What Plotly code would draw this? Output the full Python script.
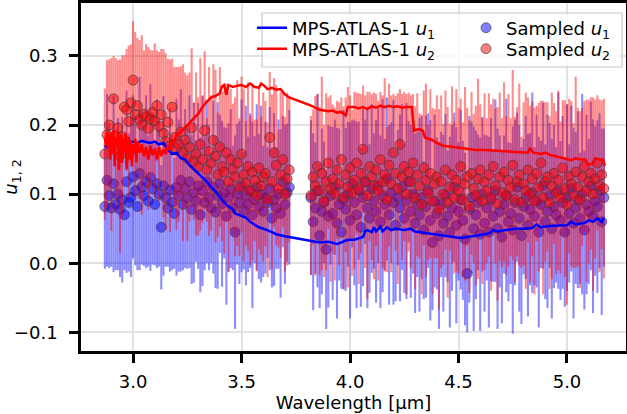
import numpy as np
import plotly.graph_objects as go

# ---------------- data ----------------
# wavelength grid of the sampled limb-darkening coefficients (two detector segments)
wl_seg1 = np.round(np.arange(2.87, 3.725, 0.01), 2)
wl_seg2 = np.round(np.arange(3.82, 5.175, 0.01), 2)

u1_seg1 = [0.082,0.120,0.098,0.080,0.115,0.085,0.100,0.078,0.092,0.070,
           0.118,0.088,0.095,0.125,0.105,0.082,0.130,0.110,0.098,0.118,
           0.090,0.124,0.108,0.085,0.115,0.100,0.052,0.112,0.095,0.080,
           0.106,0.088,0.072,0.110,0.098,0.120,0.085,0.108,0.094,0.118,
           0.078,0.102,0.090,0.112,0.070,0.105,0.088,0.118,0.095,0.080,
           0.110,0.074,0.098,0.115,0.086,0.102,0.068,0.095,0.108,0.080,
           0.045,0.100,0.088,0.112,0.076,0.098,0.085,0.105,0.070,0.092,
           0.110,0.082,0.100,0.075,0.095,0.088,0.108,0.065,0.092,0.080,
           0.100,0.072,0.118,0.085,0.102,0.110]
u2_seg1 = [0.158,0.186,0.200,0.172,0.238,0.185,0.196,0.155,0.183,0.226,
           0.222,0.205,0.232,0.265,0.215,0.228,0.208,0.200,0.216,0.212,
           0.195,0.209,0.218,0.206,0.228,0.198,0.215,0.188,0.176,0.204,
           0.170,0.226,0.182,0.166,0.172,0.190,0.160,0.178,0.152,0.168,
           0.196,0.148,0.158,0.140,0.172,0.150,0.192,0.135,0.162,0.145,
           0.178,0.155,0.128,0.168,0.140,0.132,0.160,0.118,0.150,0.136,
           0.125,0.145,0.110,0.158,0.128,0.116,0.140,0.105,0.132,0.120,
           0.098,0.138,0.112,0.125,0.130,0.092,0.182,0.118,0.160,0.142,
           0.108,0.128,0.150,0.100,0.122,0.135]
e1_seg1 = [0.090,0.125,0.105,0.085,0.128,0.095,0.110,0.098,0.120,0.080,
           0.132,0.100,0.115,0.118,0.108,0.092,0.140,0.112,0.102,0.125,
           0.095,0.135,0.110,0.088,0.122,0.105,0.090,0.130,0.100,0.085,
           0.118,0.098,0.080,0.128,0.110,0.132,0.095,0.115,0.102,0.125,
           0.108,0.130,0.088,0.120,0.112,0.138,0.098,0.118,0.105,0.080,
           0.125,0.110,0.135,0.100,0.120,0.095,0.128,0.108,0.115,0.090,
           0.140,0.102,0.118,0.125,0.085,0.130,0.098,0.112,0.135,0.092,
           0.120,0.105,0.128,0.095,0.110,0.080,0.118,0.100,0.125,0.088,
           0.108,0.122,0.095,0.115,0.100,0.112]
e2_seg1 = [0.095,0.108,0.095,0.125,0.062,0.112,0.098,0.140,0.118,0.075,
           0.088,0.110,0.085,0.085,0.120,0.098,0.115,0.130,0.092,0.105,
           0.118,0.100,0.090,0.112,0.080,0.108,0.095,0.122,0.128,0.092,
           0.125,0.070,0.102,0.118,0.112,0.095,0.128,0.098,0.120,0.108,
           0.115,0.085,0.118,0.100,0.125,0.092,0.115,0.075,0.122,0.098,
           0.110,0.125,0.090,0.116,0.108,0.118,0.100,0.130,0.102,0.095,
           0.115,0.120,0.100,0.112,0.125,0.090,0.122,0.108,0.128,0.088,
           0.110,0.118,0.100,0.122,0.105,0.112,0.095,0.126,0.108,0.116,
           0.085,0.120,0.098,0.112,0.125,0.105]

u1_seg2 = [0.095,0.060,0.080,0.105,0.040,0.075,0.088,0.020,0.068,0.098,
           0.072,0.110,0.058,0.085,0.045,0.092,0.078,0.100,0.062,0.115,
           0.088,0.070,0.105,0.052,0.095,0.118,0.080,0.065,0.108,0.090,
           0.075,0.112,0.060,0.098,0.085,0.122,0.070,0.102,0.088,0.055,
           0.095,0.080,0.110,0.065,0.090,0.118,0.075,0.100,0.058,0.085,
           0.070,0.095,0.048,0.082,0.105,0.062,0.030,0.090,0.072,0.040,
           0.085,0.058,0.098,0.068,0.045,0.080,0.110,0.055,0.075,0.092,
           0.062,0.035,-0.015,0.078,0.095,0.050,0.070,0.088,0.042,0.100,
           0.058,0.080,0.045,0.092,0.068,0.105,0.050,0.075,0.038,0.085,
           0.098,0.060,0.072,0.048,0.088,0.110,0.065,0.040,0.082,0.095,
           0.055,0.078,0.102,0.068,0.090,0.045,0.085,0.112,0.060,0.075,
           0.098,0.050,0.082,0.070,0.105,0.062,0.088,0.045,0.095,0.072,
           0.108,0.058,0.080,0.092,0.065,0.100,0.048,0.085,0.075,0.112,
           0.068,0.090,0.082,0.105,0.060,0.095]
u2_seg2 = [0.098,0.125,0.112,0.140,0.105,0.130,0.090,0.118,0.145,0.108,
           0.122,0.100,0.135,0.115,0.150,0.095,0.128,0.110,0.138,0.102,
           0.120,0.145,0.108,0.130,0.165,0.118,0.098,0.140,0.125,0.112,
           0.135,0.105,0.150,0.118,0.128,0.092,0.142,0.115,0.160,0.130,
           0.108,0.172,0.125,0.140,0.100,0.132,0.118,0.145,0.095,0.128,
           0.112,0.085,0.138,0.120,0.102,0.130,0.090,0.115,0.125,0.078,
           0.118,0.100,0.135,0.088,0.110,0.128,0.095,0.120,0.105,0.140,
           0.092,0.115,0.125,0.082,0.130,0.108,0.098,0.122,0.135,0.090,
           0.118,0.105,0.128,0.095,0.140,0.112,0.086,0.125,0.102,0.132,
           0.098,0.120,0.110,0.142,0.092,0.118,0.128,0.088,0.115,0.105,
           0.135,0.100,0.122,0.090,0.130,0.110,0.145,0.095,0.118,0.125,
           0.088,0.112,0.130,0.102,0.120,0.095,0.138,0.108,0.085,0.126,
           0.115,0.098,0.132,0.110,0.092,0.125,0.140,0.105,0.118,0.130,
           0.100,0.122,0.145,0.112,0.128,0.108]
e1_seg2 = [0.112,0.128,0.095,0.140,0.105,0.120,0.088,0.115,0.132,0.100,
           0.125,0.098,0.138,0.110,0.082,0.130,0.118,0.105,0.142,0.092,
           0.120,0.135,0.100,0.115,0.128,0.090,0.145,0.108,0.122,0.098,
           0.132,0.112,0.125,0.140,0.095,0.118,0.130,0.102,0.148,0.110,
           0.098,0.135,0.120,0.108,0.142,0.088,0.125,0.115,0.130,0.105,
           0.140,0.118,0.100,0.132,0.112,0.145,0.098,0.125,0.110,0.135,
           0.105,0.128,0.118,0.095,0.138,0.120,0.108,0.142,0.100,0.130,
           0.115,0.125,0.085,0.135,0.110,0.148,0.122,0.098,0.140,0.112,
           0.128,0.105,0.138,0.118,0.095,0.132,0.145,0.110,0.125,0.100,
           0.140,0.115,0.102,0.150,0.120,0.108,0.135,0.128,0.098,0.118,
           0.132,0.110,0.145,0.100,0.125,0.138,0.092,0.120,0.112,0.140,
           0.105,0.130,0.118,0.098,0.142,0.115,0.125,0.108,0.135,0.100,
           0.120,0.138,0.110,0.128,0.095,0.145,0.115,0.130,0.105,0.122,
           0.140,0.108,0.125,0.112,0.135,0.100]
e2_seg2 = [0.115,0.098,0.130,0.105,0.122,0.140,0.110,0.128,0.095,0.135,
           0.108,0.125,0.100,0.118,0.090,0.132,0.112,0.145,0.105,0.120,
           0.128,0.102,0.138,0.115,0.092,0.125,0.150,0.108,0.120,0.135,
           0.110,0.130,0.098,0.125,0.140,0.105,0.118,0.128,0.085,0.112,
           0.138,0.080,0.120,0.108,0.145,0.115,0.125,0.100,0.132,0.118,
           0.105,0.130,0.112,0.140,0.098,0.122,0.135,0.108,0.118,0.145,
           0.125,0.102,0.115,0.138,0.092,0.128,0.110,0.132,0.120,0.098,
           0.112,0.140,0.100,0.125,0.118,0.108,0.130,0.145,0.095,0.120,
           0.128,0.105,0.118,0.135,0.098,0.112,0.140,0.122,0.108,0.130,
           0.115,0.125,0.100,0.138,0.120,0.108,0.132,0.095,0.118,0.142,
           0.105,0.128,0.112,0.135,0.098,0.122,0.090,0.140,0.115,0.108,
           0.125,0.135,0.102,0.118,0.130,0.110,0.098,0.128,0.145,0.112,
           0.120,0.105,0.138,0.115,0.128,0.100,0.095,0.132,0.118,0.110,
           0.140,0.115,0.098,0.125,0.108,0.130]

# MPS-ATLAS-1 model curves
model_u1_wl = [2.870,2.880,2.890,2.900,2.920,2.940,2.960,2.980,3.000,3.020,3.040,3.060,3.080,3.100,
               3.120,3.140,3.160,3.180,3.200,3.220,3.240,3.260,3.280,3.300,3.320,3.340,3.360,3.380,
               3.400,3.420,3.440,3.460,3.470,3.500,3.520,3.540,3.560,3.580,3.600,3.620,3.640,3.660,
               3.680,3.700,3.720,3.820,3.860,3.900,3.940,3.960,3.980,4.000,4.020,4.040,4.060,4.070,
               4.080,4.100,4.110,4.120,4.140,4.150,4.170,4.190,4.210,4.230,4.250,4.280,4.300,4.340,
               4.380,4.420,4.460,4.500,4.520,4.560,4.600,4.640,4.660,4.680,4.720,4.760,4.800,4.840,
               4.860,4.880,4.920,4.960,5.000,5.020,5.040,5.080,5.100,5.120,5.140,5.160,5.170]
model_u1 = [0.170,0.168,0.172,0.174,0.176,0.174,0.178,0.175,0.176,0.174,0.177,0.175,0.174,0.176,
            0.172,0.174,0.165,0.158,0.160,0.152,0.150,0.142,0.136,0.130,0.124,0.118,0.110,0.104,
            0.096,0.088,0.082,0.078,0.072,0.068,0.066,0.060,0.056,0.052,0.050,0.048,0.045,0.042,
            0.040,0.039,0.038,0.032,0.030,0.031,0.028,0.030,0.033,0.034,0.034,0.036,0.038,0.046,
            0.048,0.045,0.052,0.046,0.053,0.046,0.052,0.048,0.050,0.049,0.048,0.050,0.046,0.044,
            0.042,0.040,0.039,0.037,0.037,0.039,0.042,0.043,0.048,0.046,0.048,0.050,0.050,0.051,
            0.056,0.052,0.054,0.054,0.055,0.060,0.056,0.058,0.062,0.060,0.065,0.060,0.066]

model_u2_wl = [2.870,2.875,2.880,2.885,2.890,2.895,2.900,2.905,2.910,2.915,2.920,2.925,2.930,2.935,
               2.940,2.945,2.950,2.955,2.960,2.965,2.970,2.975,2.980,2.985,2.990,2.995,3.000,3.005,
               3.010,3.015,3.020,3.030,3.040,3.050,3.060,3.070,3.080,3.090,3.100,3.110,3.120,3.130,
               3.140,3.150,3.160,3.170,3.180,3.190,3.200,3.220,3.240,3.260,3.280,3.300,3.320,3.340,
               3.360,3.380,3.400,3.410,3.420,3.430,3.440,3.460,3.480,3.500,3.520,3.540,3.560,3.580,
               3.590,3.600,3.620,3.640,3.660,3.680,3.700,3.720,3.820,3.840,3.860,3.880,3.900,3.920,
               3.940,3.960,3.980,3.990,4.020,4.040,4.060,4.080,4.100,4.120,4.140,4.160,4.180,4.200,
               4.220,4.240,4.260,4.285,4.295,4.320,4.335,4.345,4.380,4.400,4.430,4.460,4.500,4.540,
               4.580,4.620,4.660,4.700,4.740,4.780,4.820,4.830,4.845,4.880,4.900,4.920,4.960,4.990,
               5.020,5.040,5.060,5.085,5.095,5.120,5.130,5.150,5.165,5.175]
model_u2 = [0.182,0.170,0.190,0.165,0.186,0.150,0.188,0.158,0.193,0.140,0.182,0.168,0.190,0.135,
            0.176,0.186,0.145,0.180,0.160,0.188,0.136,0.172,0.183,0.150,0.178,0.140,0.172,0.158,
            0.180,0.146,0.176,0.160,0.172,0.155,0.168,0.150,0.170,0.156,0.166,0.150,0.168,0.155,
            0.165,0.158,0.170,0.163,0.178,0.176,0.186,0.190,0.196,0.203,0.210,0.216,0.226,0.234,
            0.240,0.242,0.246,0.256,0.258,0.244,0.258,0.255,0.257,0.258,0.255,0.260,0.255,0.254,
            0.260,0.258,0.252,0.254,0.251,0.252,0.244,0.240,0.228,0.225,0.222,0.221,0.220,0.221,
            0.218,0.219,0.214,0.226,0.226,0.224,0.226,0.223,0.227,0.225,0.228,0.226,0.228,0.226,
            0.227,0.225,0.226,0.226,0.192,0.194,0.192,0.182,0.178,0.174,0.170,0.169,0.167,0.165,
            0.164,0.164,0.163,0.163,0.162,0.161,0.160,0.167,0.160,0.158,0.160,0.157,0.154,0.151,
            0.149,0.152,0.150,0.150,0.143,0.144,0.152,0.150,0.150,0.141]

x_ticks = [3.0, 3.5, 4.0, 4.5, 5.0]
y_ticks = [-0.1, 0.0, 0.1, 0.2, 0.3]

wl = np.concatenate([wl_seg1, wl_seg2])
u1 = u1_seg1 + u1_seg2
u2 = u2_seg1 + u2_seg2
e1 = e1_seg1 + e1_seg2
e2 = e2_seg1 + e2_seg2
assert len(wl) == len(u1) == len(u2) == len(e1) == len(e2)
assert len(model_u1_wl) == len(model_u1) and len(model_u2_wl) == len(model_u2)

FONT = "DejaVu Sans"
FS = 18
W, H = 627, 414
ML, MR, MT, MB = 81, 1, 3, 63
PW, PH = W - ML - MR, H - MT - MB


def px_x(px):
    return (px - ML) / PW


def px_y(py):
    return (H - MB - py) / PH


fig = go.Figure()

fig.add_trace(go.Scatter(
    x=wl, y=u1, mode="markers", name="Sampled <i>u</i><sub>1</sub>", legend="legend3",
    marker=dict(size=10, color="rgba(0,0,255,0.5)", line=dict(color="rgba(60,60,60,0.65)", width=1)),
    error_y=dict(type="data", array=e1, visible=True, color="rgba(0,0,255,0.45)", thickness=2.1, width=0),
))
fig.add_trace(go.Scatter(
    x=wl, y=u2, mode="markers", name="Sampled <i>u</i><sub>2</sub>", legend="legend4",
    marker=dict(size=10, color="rgba(255,0,0,0.5)", line=dict(color="rgba(60,60,60,0.65)", width=1)),
    error_y=dict(type="data", array=e2, visible=True, color="rgba(255,0,0,0.45)", thickness=2.1, width=0),
))
fig.add_trace(go.Scatter(
    x=model_u1_wl, y=model_u1, mode="lines", name="MPS-ATLAS-1 <i>u</i><sub>1</sub>", legend="legend",
    line=dict(color="rgb(0,0,255)", width=2.5),
))
fig.add_trace(go.Scatter(
    x=model_u2_wl, y=model_u2, mode="lines", name="MPS-ATLAS-1 <i>u</i><sub>2</sub>", legend="legend2",
    line=dict(color="rgb(255,0,0)", width=2.5),
))

axis_common = dict(
    showline=True, linecolor="black", linewidth=2.5, mirror=True,
    ticks="outside", ticklen=9, tickwidth=2.5, tickcolor="black",
    showgrid=True, gridcolor="rgb(225,225,225)", gridwidth=1.5,
    zeroline=False, tickfont=dict(family=FONT, size=FS, color="black"),
    tickformat=".1f", automargin=False,
)
fig.update_xaxes(range=[2.76, 5.272], tickvals=x_ticks, ticklabelstandoff=4,
                 title=dict(text="Wavelength [μm]", font=dict(family=FONT, size=FS, color="black"), standoff=2),
                 **axis_common)
fig.update_yaxes(range=[-0.127, 0.3766], tickvals=y_ticks, ticklabelstandoff=8,
                 title=dict(text="<i>u</i><sub>1, 2</sub>", font=dict(family=FONT, size=FS, color="black"), standoff=6),
                 **axis_common)

# legend frame behind the four single-entry legends
fig.add_shape(type="rect", xref="paper", yref="paper", layer="above",
              x0=px_x(262), x1=px_x(622), y0=px_y(67), y1=px_y(13),
              fillcolor="rgba(255,255,255,0.8)", line=dict(color="rgb(200,200,200)", width=1.2))

legend_common = dict(
    orientation="v", yanchor="middle", xanchor="left", bgcolor="rgba(0,0,0,0)", borderwidth=0,
    font=dict(family=FONT, size=FS, color="black"), tracegroupgap=0, itemwidth=30,
)

fig.update_layout(
    width=W, height=H,
    margin=dict(l=ML, r=MR, t=MT, b=MB),
    paper_bgcolor="white", plot_bgcolor="white",
    font=dict(family=FONT, size=FS, color="black"),
    legend=dict(x=px_x(252), y=px_y(28), **legend_common),
    legend2=dict(x=px_x(252), y=px_y(49), **legend_common),
    legend3=dict(x=px_x(466), y=px_y(28), **legend_common),
    legend4=dict(x=px_x(466), y=px_y(49), **legend_common),
    showlegend=True,
)

fig.write_html("out.html", post_script="document.body.style.margin='0px';",
               config={"displayModeBar": False})
